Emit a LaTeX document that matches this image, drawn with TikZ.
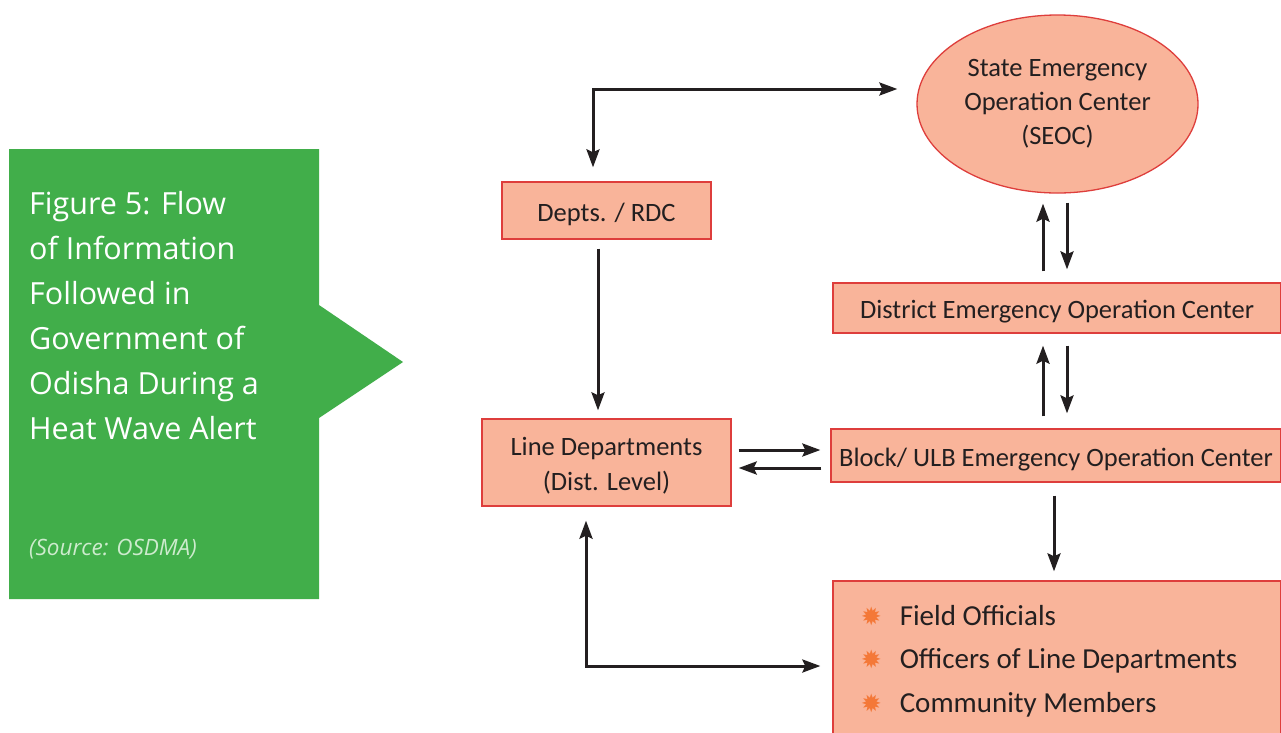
\documentclass[tikz,border=0pt]{standalone}
\usepackage{fontspec}
\setmainfont{Carlito}
\newfontfamily\greenfont{Open Sans}
\newfontfamily\symfont{DejaVu Sans}
\usetikzlibrary{shapes.geometric,arrows.meta,calc}
\definecolor{boxfill}{RGB}{249,180,154}
\definecolor{boxline}{RGB}{222,62,60}
\definecolor{figgreen}{RGB}{65,174,74}
\definecolor{srcgreen}{RGB}{205,235,205}
\definecolor{bulorange}{RGB}{244,120,56}
\definecolor{txt}{RGB}{35,31,32}
\tikzset{
  box/.style={draw=boxline, line width=1.3pt, fill=boxfill, text=txt, align=center,
    inner sep=0pt, font=\fontsize{26.5}{34}\selectfont},
  conn/.style={line width=3pt, draw=txt, -{Stealth[length=18pt,width=13pt,inset=3pt]}},
  conn2/.style={line width=3pt, draw=txt, {Stealth[length=18pt,width=13pt,inset=3pt]}-{Stealth[length=18pt,width=13pt,inset=3pt]}}
}
\newcommand{\bul}{{\symfont\color{bulorange}\fontsize{25}{25}\selectfont ✹}}
\newcommand{\lowr}[1]{\raisebox{-4pt}[\height][\depth]{#1}}
\begin{document}
\begin{tikzpicture}[x=1pt,y=-1pt]
\useasboundingbox (0,0) rectangle (1281,732);
\clip (0,0) rectangle (1281,732);
\fill[white] (0,0) rectangle (1281,732);
% green caption shape
\fill[figgreen] (9,149) -- (319,149) -- (319,305) -- (403,362) -- (319,418) -- (319,599) -- (9,599) -- cycle;
\node[anchor=north west, align=left, text=white, inner sep=0pt,
  font=\greenfont\fontsize{30.5}{45}\selectfont] (cap) at (29,191)
  {Figure 5: Flow\\of Information\\Followed in\\Government of\\Odisha During a\\Heat Wave Alert};
\node[anchor=west, text=srcgreen, inner sep=0pt, font=\greenfont\itshape\fontsize{22.5}{26}\selectfont] (src) at (29,549) {(Source: OSDMA)};
% nodes
\node[box, ellipse, minimum width=281pt, minimum height=178pt] (seoc) at (1057.5,104)
  {State Emergency\\Operation Center\\(SEOC)};
\node[box, minimum width=209pt, minimum height=57pt] (depts) at (606.5,210.5) {\lowr{Depts. / RDC}};
\node[box, minimum width=448pt, minimum height=50pt] (dist) at (1057,308) {\lowr{District Emergency Operation Center}};
\node[box, minimum width=450pt, minimum height=53pt] (block) at (1056,455.5) {\lowr{Block/ ULB Emergency Operation Center}};
\node[box, minimum width=249pt, minimum height=87pt] (line) at (606.5,462.5)
  {\lowr{\begin{tabular}{@{}c@{}}Line Departments\\[1pt](Dist. Level)\end{tabular}}};
\node[box, minimum width=448pt, minimum height=160pt, align=left,
  font=\fontsize{29}{43.5}\selectfont] (field) at (1057,661)
  {\hspace*{-16pt}\bul\hspace{18pt}Field Officials\\\hspace*{-16pt}\bul\hspace{18pt}Officers of Line Departments\\\hspace*{-16pt}\bul\hspace{18pt}Community Members};
% connectors
\draw[conn2] ($(depts.north)+(-13.5,-14)$) |- ($(seoc.west)+(-19,-15)$);
\draw[conn] ($(depts.south)+(-8.5,9)$) -- ($(line.north)+(-8.5,-8)$);
\draw[conn] ($(dist.north)+(-14,-11)$) -- ($(seoc.south)+(-14.5,10)$);
\draw[conn] ($(seoc.south)+(9.5,9)$) -- ($(dist.north)+(10,-13)$);
\draw[conn] ($(block.north)+(-13,-12)$) -- ($(dist.south)+(-14,12)$);
\draw[conn] ($(dist.south)+(10,12)$) -- ($(block.north)+(11,-15)$);
\draw[conn] ($(line.east)+(7,-12.5)$) -- ($(block.west)+(-10,-5.5)$);
\draw[conn] ($(block.west)+(-9,12.5)$) -- ($(line.east)+(7,5.5)$);
\draw[conn] ($(block.south)+(-2,13)$) -- ($(field.north)+(-3,-9)$);
\draw[conn2] ($(line.south)+(-20.5,14)$) |- ($(field.west)+(-12,5)$);
\end{tikzpicture}
\end{document}
